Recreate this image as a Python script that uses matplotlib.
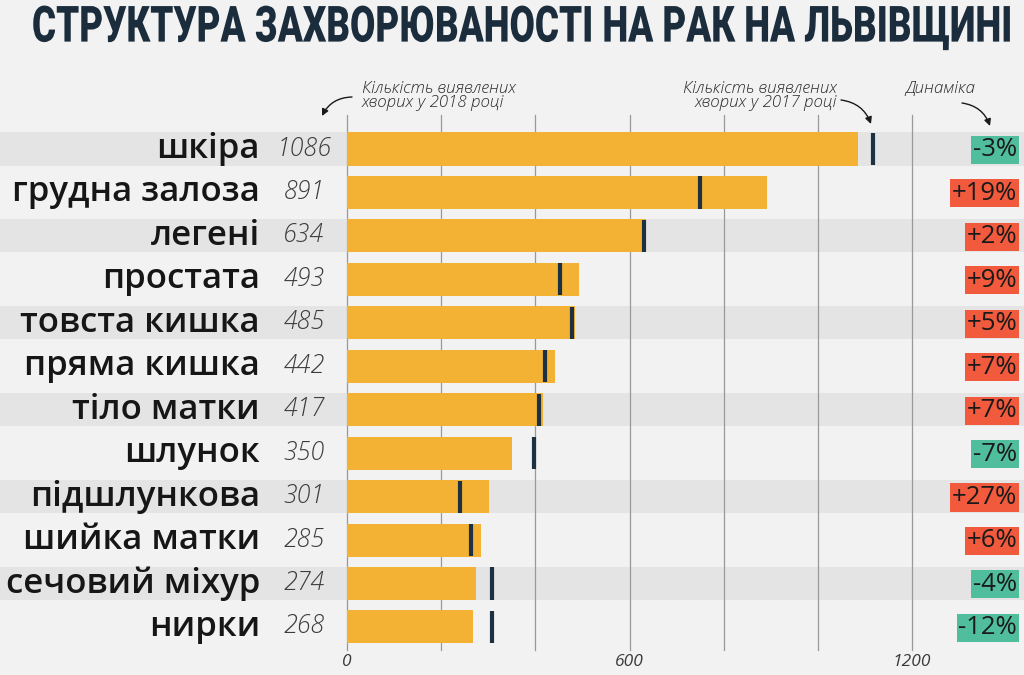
import matplotlib
matplotlib.use("Agg")
import matplotlib.pyplot as plt
import matplotlib.patheffects as pe
from matplotlib.transforms import Affine2D
import numpy as np

categories = ["шкіра", "грудна залоза", "легені", "простата", "товста кишка",
              "пряма кишка", "тіло матки", "шлунок", "підшлункова",
              "шийка матки", "сечовий міхур", "нирки"]
values_2018 = [1086, 891, 634, 493, 485, 442, 417, 350, 301, 285, 274, 268]
values_2017 = [1118, 750, 631, 453, 478, 421, 408, 397, 239, 263, 309, 309]
changes = [-3, 19, 2, 9, 5, 7, 7, -7, 27, 6, -4, -12]
tick_values = [0, 600, 1200]

W, H = 1024, 675
BG = "#f2f2f2"
BAND = "#e4e4e4"
BAR = "#f3b233"
MARK = "#1c3242"
GREEN = "#50be9c"
RED = "#f15a3d"
TITLE = "#1b2d3c"


class Stretch(pe.AbstractPathEffect):
    """Vertically stretch the glyph outlines of a text around y0 (display px)."""

    def __init__(self, sy, y0):
        super().__init__()
        self.sy = sy
        self.y0 = y0

    def draw_path(self, renderer, gc, tpath, affine, rgbFace=None):
        stretch = Affine2D().translate(0, -self.y0).scale(1, self.sy).translate(0, self.y0)
        renderer.draw_path(gc, tpath, affine + stretch, rgbFace)


fig = plt.figure(figsize=(W / 100, H / 100), dpi=100, facecolor=BG)
ax = fig.add_axes([0, 0, 1, 1])
ax.set_facecolor(BG)
ax.axis("off")

# pixel mapping: 0 -> x=347, 1200 -> x=912
X0, SC = 347.0, 565.0 / 1200.0
Y0, DY = 149.0, 43.45
ax.set_xlim((0 - X0) / SC, (W - X0) / SC)
ax.set_ylim((H - Y0) / DY, (0 - Y0) / DY)


def px(x):
    return (x - X0) / SC


def py(y):
    return (y - Y0) / DY


y = np.arange(len(categories))

# alternating bands
for i in y[::2]:
    ax.axhspan(i - 0.38, i + 0.38, color=BAND, zorder=0, lw=0)

# gridlines
for v in range(0, 1201, 200):
    ax.plot([v, v], [py(115), py(650)], color="#999999", lw=0.9, zorder=1)

ax.barh(y, values_2018, height=0.76, color=BAR, zorder=2)
ax.vlines(values_2017, y - 0.37, y + 0.37, color=MARK, lw=3, zorder=3)

for i, (cat, v, c) in enumerate(zip(categories, values_2018, changes)):
    ax.text(px(260), i, cat, ha="right", va="center", fontsize=25,
            family="Open Sans", weight="semibold", color="#161616")
    ax.text(px(304), i, str(v), ha="center", va="center", fontsize=18,
            family="Open Sans", style="italic", weight="light", color="#3c3c3c")
    ax.text(px(1017), i + 0.02, f"{c:+d}%", ha="right", va="center", fontsize=18.5,
            family="Open Sans", color="#1a1a1a",
            bbox=dict(boxstyle="square,pad=0.06", fc=GREEN if c < 0 else RED, ec="none"))

for t in tick_values:
    ax.text(t, py(662), str(t), ha="center", va="center", fontsize=12.5,
            family="Open Sans", style="italic", color="#3a3a3a")

# title: heavy font sized to span the width, then stretched vertically
TITLE_FS = 36.0
TITLE_YC = H - 28.0
title = fig.text(32 / W, TITLE_YC / H, "СТРУКТУРА ЗАХВОРЮВАНОСТІ НА РАК НА ЛЬВІВЩИНІ",
                 ha="left", va="center", fontsize=TITLE_FS, weight="heavy",
                 family="Roboto", color=TITLE)
r = fig.canvas.get_renderer()
bb = title.get_window_extent(r)
fs = TITLE_FS * 980.0 / bb.width
title.set_fontsize(fs)
title.set_path_effects([Stretch(TITLE_FS / fs, TITLE_YC)])

ann_kw = dict(fontsize=12.2, family="Open Sans", style="italic", color="#2a2a2a",
              weight="light", linespacing=0.9)
fig.text(362 / W, 1 - 96 / H, "Кількість виявлених\nхворих у 2018 році",
         ha="left", va="center", **ann_kw)
fig.text(837 / W, 1 - 96 / H, "Кількість виявлених\nхворих у 2017 році",
         ha="right", va="center", multialignment="right", **ann_kw)
fig.text(940 / W, 1 - 89 / H, "Динаміка", ha="center", va="center", **ann_kw)

arrow = dict(arrowstyle="-|>,head_length=0.4,head_width=0.2", color="#1a1a1a", lw=1.0,
             shrinkA=0, shrinkB=0)
ax.annotate("", xy=(322, H - 116), xytext=(352, H - 97), xycoords="figure pixels",
            textcoords="figure pixels",
            arrowprops=dict(connectionstyle="arc3,rad=0.3", **arrow))
ax.annotate("", xy=(871, H - 124), xytext=(841, H - 100), xycoords="figure pixels",
            textcoords="figure pixels",
            arrowprops=dict(connectionstyle="arc3,rad=-0.3", **arrow))
ax.annotate("", xy=(990, H - 126), xytext=(962, H - 103), xycoords="figure pixels",
            textcoords="figure pixels",
            arrowprops=dict(connectionstyle="arc3,rad=-0.3", **arrow))

fig.savefig("out.png", dpi=100, facecolor=BG)
